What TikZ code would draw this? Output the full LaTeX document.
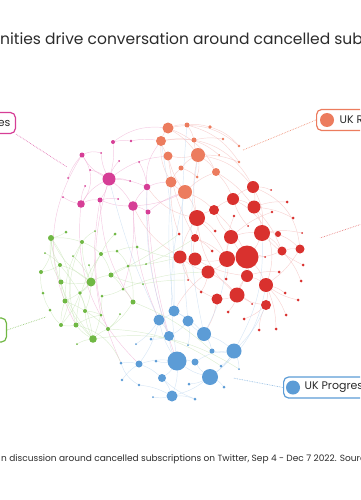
\documentclass[tikz,border=0pt]{standalone}
\usepackage{fontspec}
\setmainfont{Poppins}
\usetikzlibrary{positioning}
\definecolor{Pink}{RGB}{214, 62, 150}
\definecolor{Salmon}{RGB}{236, 124, 94}
\definecolor{Red}{RGB}{217, 49, 46}
\definecolor{Green}{RGB}{112, 184, 68}
\definecolor{Blue}{RGB}{92, 156, 214}
\definecolor{Ink}{RGB}{43, 43, 43}
\pgfdeclarelayer{edges}
\pgfsetlayers{edges,main}

\begin{document}
\begin{tikzpicture}[x=1pt, y=-1pt,
    dot/.style={circle, inner sep=0pt, outer sep=0pt},
    link/.style={line width=0.45pt, opacity=0.6},
    tag/.style={draw=#1, line width=1.2pt, rounded corners=5pt, fill=white,
        minimum height=21pt, inner xsep=5pt, text=Ink, font=\fontsize{11}{12}\selectfont},
    lead/.style={#1, densely dotted, line width=0.7pt}]
    %% Frame
    \useasboundingbox (0,0) rectangle (360,500);
    \clip (0,0) rectangle (360,500);

    %% Title and source
    \node[anchor=base west, inner sep=0pt, text=Ink, font=\fontsize{15.5}{18}\selectfont] (title) at (0,45)
    {nities drive conversation around cancelled sub};
    \node[anchor=base west, inner sep=0pt, text=Ink, font=\fontsize{9}{11}\selectfont] (source) at (1,461)
    {n discussion around cancelled subscriptions on Twitter, Sep 4 - Dec 7 2022. Sourc};

    %% Pink community
    \foreach \n/\x/\y/\r in {1/82/155/2.5, 2/113/142/2, 3/131/141/1.3, 4/101/153/1, 5/119/161/1,
        6/139/162/1, 7/90/170/1, 8/68/178/1, 9/109/179/6.5, 10/130/181/1, 11/85/186/1, 12/147/187/3.3,
        13/63/197/1, 14/100/200/2.5, 15/118/199/1, 16/81/204/3.8, 17/133/206/4.8, 18/148/212/2.5}
    \node[dot, fill=Pink, minimum size=2*\r pt] (p\n) at (\x,\y) {};

    %% Salmon community
    \foreach \n/\x/\y/\r in {1/168/128/5.5, 2/187/125/2.5, 3/210/127/1.8, 4/161/141/5, 5/194/140/2.5,
        6/223/139/1.3, 7/239/146/1.3, 8/198/155/7, 9/168/156/4.5, 10/219/155/1, 11/239/162/1.3,
        12/181/168/2.5, 13/216/172/4, 14/197/177/1.5, 15/171/182/5.5, 16/185/192/7}
    \node[dot, fill=Salmon, minimum size=2*\r pt] (s\n) at (\x,\y) {};

    %% Red community
    \foreach \n/\x/\y/\r in {1/253/187/6, 2/271/190/1, 3/233/199/6, 4/287/202/1.5, 5/214/210/5,
        6/254/207/6.5, 7/197/218/8, 8/234/216/1.3, 9/272/212/1.3, 10/293/218/1.5, 11/215/231/1.5,
        12/248/226/1, 13/179/234/1.5, 14/195/238/4, 15/231/237/7, 16/262/233/8, 17/278/234/3,
        18/302/233/1, 19/212/251/1.5, 20/180/257/6.5, 21/195/259/6.5, 22/227/259/8, 23/247/257/11.5,
        24/282/251/4.5, 25/300/249/4.5, 26/265/257/1, 27/303/265/1.5, 28/208/272/6.5, 29/247/276/6,
        30/279/272/1.5, 31/226/279/1.5, 32/188/280/1, 33/266/285/7, 34/301/281/1.5, 35/201/292/1.5,
        36/237/295/7.5, 37/217/299/5.5, 38/285/293/1.5, 39/266/305/5, 40/298/300/1.5, 41/252/304/1,
        42/259/330/1.5, 43/276/329/1.5, 44/286/315/1.5, 45/244/319/1.5, 46/228/312/1.5}
    \node[dot, fill=Red, minimum size=2*\r pt] (r\n) at (\x,\y) {};

    %% Blue community
    \foreach \n/\x/\y/\r in {1/174/311/5.5, 2/159/320/5.5, 3/188/321/5.5, 4/169/336/5, 5/204/334/7,
        6/151/339/1.5, 7/136/344/1, 8/188/345/1, 9/212/351/2.5, 10/234/351/7.5, 11/177/361/9.5,
        12/121/363/1.5, 13/139/364/3.5, 14/156/361/1.5, 15/195/362/3.5, 16/221/366/1.5, 17/239/369/1,
        18/162/378/4, 19/210/377/8, 20/122/380/1.3, 21/139/385/1.3, 22/189/384/1.5, 23/224/387/1.5,
        24/153/397/1, 25/172/396/5.5, 26/195/399/1.5}
    \node[dot, fill=Blue, minimum size=2*\r pt] (b\n) at (\x,\y) {};

    %% Green community
    \foreach \n/\x/\y/\r in {1/51/238/3, 2/66/232/1.5, 3/95/231/1, 4/115/234/1.5, 5/82/242/2,
        6/45/253/1, 7/73/256/1, 8/101/254/2, 9/117/251/1.5, 10/137/247/1.5, 11/60/265/2, 12/89/265/1,
        13/128/266/1.5, 14/146/264/1, 15/41/272/2, 16/111/275/2.5, 17/61/282/2.5, 18/91/282/4.5,
        19/143/284/1, 20/43/293/1.5, 21/80/293/1.8, 22/123/289/1.5, 23/102/296/1.5, 24/65/301/2.5,
        25/133/302/2.5, 26/50/310/1.5, 27/85/311/2, 28/101/315/1.5, 29/120/314/1, 30/61/325/2,
        31/76/325/2.5, 32/108/329/2, 33/93/339/3.8, 34/77/344/1}
    \node[dot, fill=Green, minimum size=2*\r pt] (g\n) at (\x,\y) {};

    %% Links
    \begin{pgfonlayer}{edges}
    \foreach \a/\b/\k in {p9/p1/15, p9/p14/10, p9/p16/-15, p9/p17/10, p9/p12/10, p9/p2/-10, p9/p5/10,
        p9/p4/10, p16/p1/-35, p16/p14/15, p16/p13/10, p16/p11/10, p14/p17/-10, p17/p12/10, p17/p18/10,
        p1/p8/-10, p1/p4/20, p2/p3/10, p14/p15/10, p9/p10/10, p9/p7/-10, p12/s15/10, p17/s16/-10,
        p9/s9/15, p12/s4/20, p2/s1/20, p18/s16/10, p16/b13/-25, p9/b12/-20, p14/g28/-10, p17/b2/-10,
        p18/b4/-5, p12/b11/-10, p1/g31/-30, p14/g25/-15, p17/g22/10, p6/p12/10, p3/s4/10}
    \draw[link, Pink!45] (\a) to[bend left=\k] (\b);

    \foreach \a/\b/\k in {s1/s4/-10, s1/s2/10, s2/s5/10, s4/s9/-10, s8/s9/10, s8/s5/10, s8/s13/10,
        s8/s12/-10, s12/s15/-10, s15/s16/-10, s16/s13/10, s1/s8/10, s2/s3/10, s3/s7/15, s5/s6/10,
        s8/s11/10, s4/s15/-15, s9/s16/-10, s1/s13/20, s1/s7/25, s4/s10/25, s8/s14/10, s12/s14/10,
        s16/r7/10, s13/r3/10, s8/r1/20, s16/r5/10, s15/r13/-10, s13/r6/10, s8/r7/-10, s4/r1/35,
        s2/s11/20, s9/r14/-10,
        r23/r22/10, r23/r16/-10, r23/r15/10, r23/r33/10, r23/r29/10, r23/r24/-10, r22/r21/10,
        r22/r15/10, r22/r28/10, r21/r20/10, r21/r14/10, r7/r14/10, r7/r5/10, r7/r20/-10, r5/r3/10,
        r3/r1/10, r1/r6/10, r6/r16/10, r16/r17/10, r17/r25/10, r24/r25/10, r15/r16/10, r28/r36/10,
        r36/r37/10, r36/r29/10, r29/r33/10, r33/r39/10, r39/r36/10, r15/r5/10, r3/r6/10, r20/r28/-10,
        r14/r22/10, r16/r24/10, r23/r36/10, r33/r25/-10, r1/r16/15, r6/r24/10, r7/r22/10,
        r20/r37/-25, r1/r25/30, r3/r33/40, r7/r36/-20, r5/r23/10, r21/r29/-10, r15/r9/10, r6/r10/10,
        r16/r27/-10, r22/r31/10, r28/r35/10, r36/r41/10, r33/r44/10, r23/r26/10, r7/r11/10, r1/r2/10,
        r6/r4/10, r20/r32/10, r14/r19/10, r29/r30/10, r33/r40/-10, r16/r18/10, r24/r34/10, r22/r8/10,
        r3/r12/-10, r33/r38/10, r36/r46/10, r39/r45/10, r39/r42/-10, r33/r43/10,
        r20/p17/15, r7/p12/20, r28/b1/-10, r37/b5/10}
    \draw[link, Red!35] (\a) to[bend left=\k] (\b);

    \foreach \a/\b/\k in {b11/b2/10, b11/b4/10, b11/b15/10, b11/b18/10, b11/b25/10, b11/b19/-10,
        b5/b3/10, b5/b10/10, b5/b1/-10, b1/b2/10, b1/b3/10, b2/b4/10, b3/b4/10, b10/b19/10, b10/b9/10,
        b19/b25/10, b19/b15/10, b18/b25/10, b13/b11/10, b13/b2/-10, b13/b18/10, b12/b13/10,
        b19/b23/10, b25/b24/10, b10/b16/10, b3/b8/10, b4/b6/10, b19/b22/10, b20/b13/10, b21/b25/10,
        b10/b17/10, b11/b14/10, b12/b21/-20, b7/b2/-10, b5/b9/10, b10/b15/-15, b18/b26/-10, b25/b26/10,
        b5/s8/10, b1/s4/-5, b3/s2/5, b10/r16/-15, b2/p9/5, b19/r33/-20, b10/r39/-10, b1/s15/5,
        b4/p12/10, b5/r22/-10, b11/s16/10}
    \draw[link, Blue!40] (\a) to[bend left=\k] (\b);

    \foreach \a/\b/\k in {g18/g5/10, g18/g8/10, g18/g11/-10, g18/g17/10, g18/g21/10, g18/g24/10,
        g18/g16/10, g18/g27/10, g18/g1/15, g1/g5/10, g1/g11/-15, g1/g17/-20, g5/g8/10, g8/g9/10,
        g8/g16/10, g9/g13/10, g16/g22/10, g22/g25/10, g25/g32/10, g33/g31/10, g33/g32/10, g33/g27/10,
        g31/g30/10, g30/g24/10, g24/g17/10, g17/g11/10, g11/g15/10, g15/g20/-10, g20/g26/-10,
        g26/g30/-10, g1/g30/30, g1/g33/-15, g5/g24/-15, g8/g31/-15, g23/g33/10, g27/g28/10,
        g21/g30/10, g24/g32/10, g16/g13/10, g13/g25/10, g11/g33/15, g1/g15/20, g2/g1/10, g5/g3/10,
        g8/g4/10, g9/g10/10, g6/g11/10, g7/g18/10, g12/g18/10, g14/g13/10, g19/g16/10, g21/g27/10,
        g29/g32/10, g34/g33/10, g22/g23/10, g31/g28/10, g5/g31/-20, g17/g33/-15,
        g33/b17/20, g13/r20/-5, g10/r21/-10, g25/b9/10, g16/r13/-5, g22/r28/10, g31/b12/25,
        g19/r32/5, g32/b16/15, g14/r14/-5}
    \draw[link, Green!40] (\a) to[bend left=\k] (\b);
    \end{pgfonlayer}

    %% Community tags
    \node[tag=Pink, anchor=east] (tagPink) at (16,123) {\hspace*{20pt}es};
    \node[tag=Salmon, anchor=west] (tagSalmon) at (316,120) {\hspace*{18pt}UK R};
    \node[dot, fill=Salmon, minimum size=14pt, right=4pt of tagSalmon.west] (keySalmon) {};
    \node[tag=Green, anchor=east, minimum width=40pt, minimum height=24pt] (tagGreen) at (7,330) {};
    \node[tag=Blue, anchor=west] (tagBlue) at (283,387.5) {\hspace*{16pt}UK Progress};
    \node[dot, fill=Blue, minimum size=14pt, right=3pt of tagBlue.west] (keyBlue) {};

    %% Leader lines
    \coordinate (endPink) at (67,167);
    \coordinate (endSalmon) at (243,150);
    \coordinate (tagRed) at (362,224);
    \coordinate (endRed) at (320,238);
    \coordinate (endGreen) at (46,317);
    \coordinate (endBlue) at (233,378);
    \draw[lead=Pink!70] (tagPink.south east) -- (endPink);
    \draw[lead=Salmon!80] (tagSalmon.west) -- (endSalmon);
    \draw[lead=Red!60] (tagRed) -- (endRed);
    \draw[lead=Green!70] (tagGreen.east) -- (endGreen);
    \draw[lead=Blue!70] (tagBlue.west) -- (endBlue);
\end{tikzpicture}
\end{document}
